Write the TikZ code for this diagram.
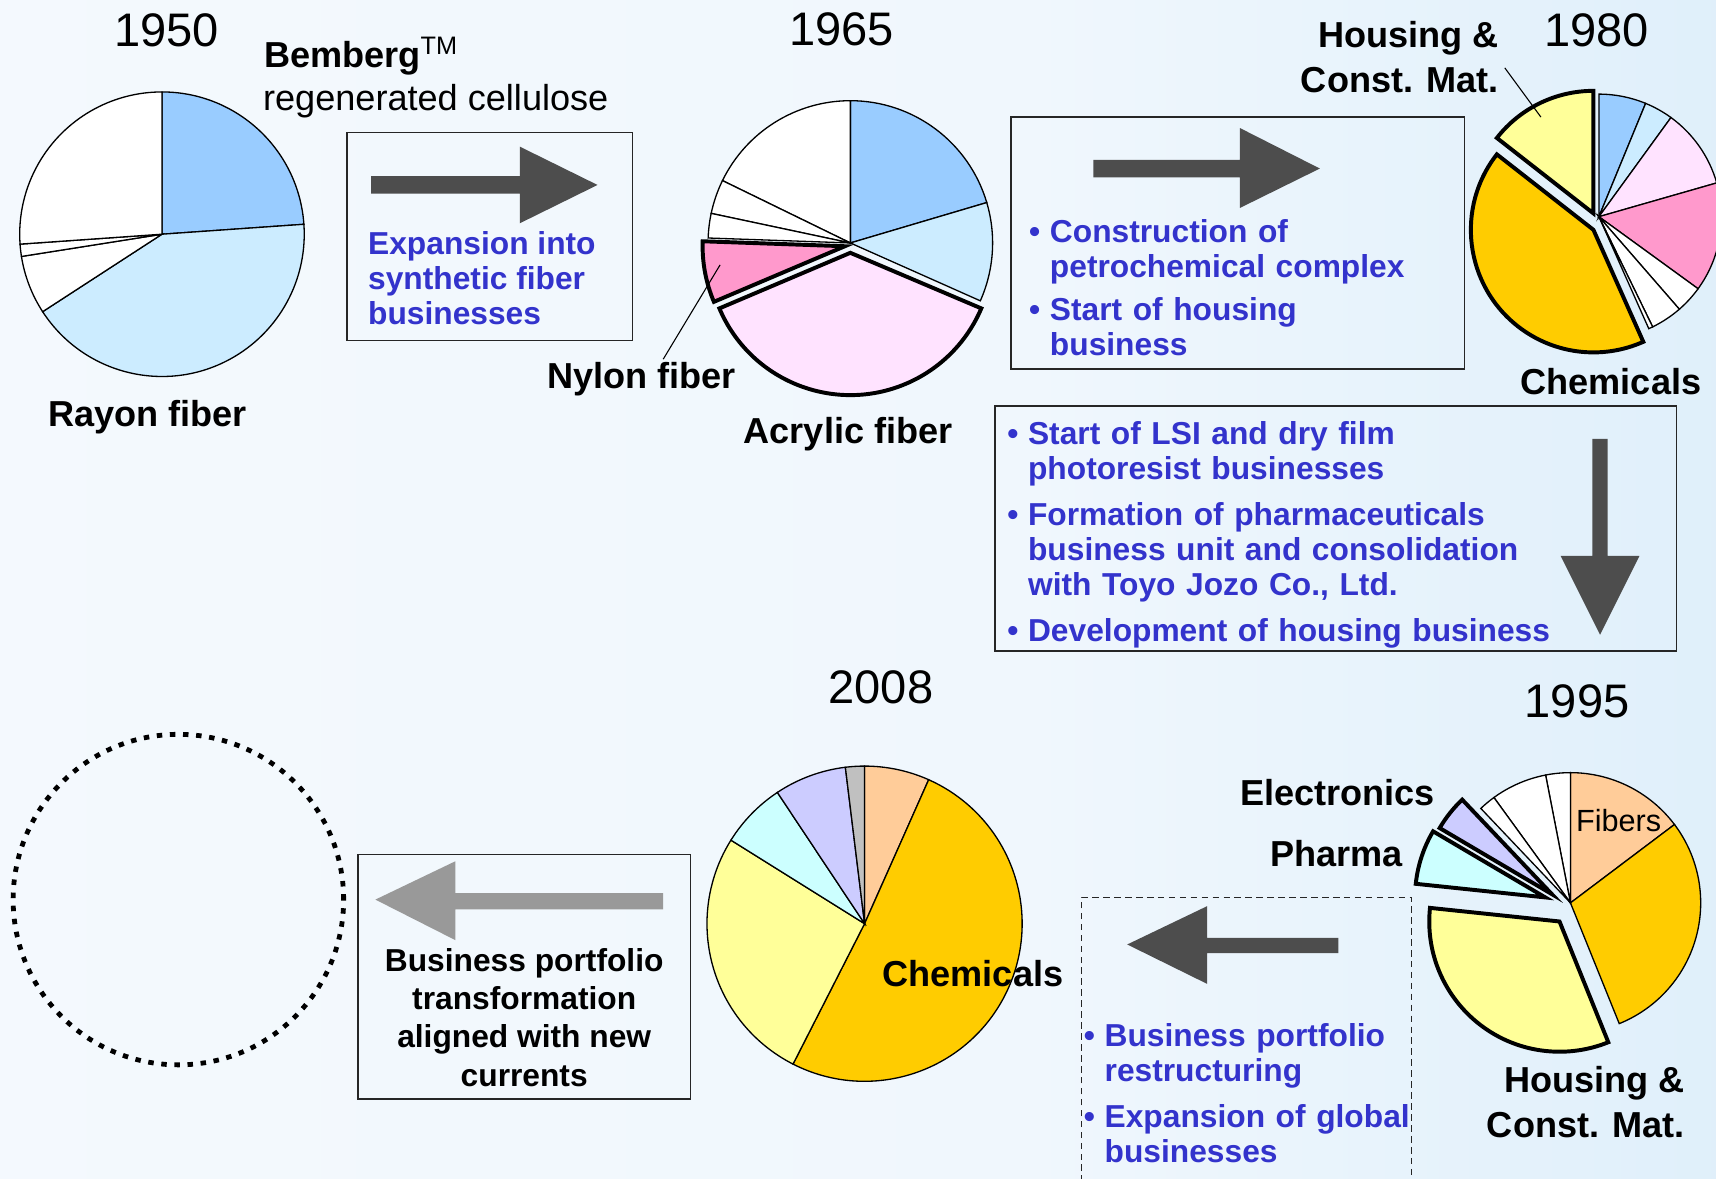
\documentclass[tikz,border=0pt]{standalone}
\usepackage{fontspec}
\setmainfont{Liberation Sans}
\usepackage{xcolor}
\usetikzlibrary{calc,positioning}
\definecolor{bgleft}{RGB}{247,251,254}
\definecolor{bgmid}{RGB}{240,247,253}
\definecolor{bgright}{RGB}{203,230,247}
\definecolor{listblue}{HTML}{3333CC}
\definecolor{arrowdark}{HTML}{4D4D4D}
\definecolor{arrowgrey}{HTML}{999999}
\definecolor{cblue}{HTML}{99CCFF}
\definecolor{clightblue}{HTML}{CCECFF}
\definecolor{cpink}{HTML}{FF99CC}
\definecolor{clightpink}{HTML}{FFE3FF}
\definecolor{cchem}{HTML}{FFCC00}
\definecolor{chouse}{HTML}{FFFF99}
\definecolor{cpeach}{HTML}{FFCC99}
\definecolor{ccyan}{HTML}{CCFFFF}
\definecolor{clavender}{HTML}{CCCCFF}
\definecolor{cgrey}{HTML}{C0C0C0}
\pgfdeclarehorizontalshading{bgshade}{100bp}{color(0bp)=(bgleft); color(55bp)=(bgmid); color(100bp)=(bgright)}
\tikzset{
  yearlbl/.style={font=\fontsize{21.5}{24}\selectfont},
  partlbl/.style={font=\fontsize{16.5}{20.5}\selectfont\bfseries},
  celltext/.style={font=\fontsize{16.5}{20}\selectfont},
  bluelist/.style={
    font=\fontsize{14.5}{16}\selectfont\bfseries,
    text=listblue,
    align=left,
    anchor=north west
  },
  framebox/.style={draw=black!85, line width=0.7pt},
  dashbox/.style={draw=black!85, line width=0.6pt, dash pattern=on 3pt off 2pt},
  bigarrow/.style={fill=arrowdark},
  greyarrow/.style={fill=arrowgrey},
  pieline/.style={draw=black, line width=0.6pt},
  explodeline/.style={draw=black, line width=1.8pt},
  dotring/.style={draw=black, line width=2.2pt, dash pattern=on 2.5pt off 3.5pt},
  leader/.style={draw=black, line width=0.5pt}
}
\newcommand{\pieslice}[6]{%
  \path[#6, fill=#5] (#1) -- ++(#3:#2) arc[start angle=#3, end angle=#4, radius=#2] -- cycle;}
\newcommand{\bitem}[2][0pt]{\par\vspace{#1}\noindent\hangindent=9.5pt\hangafter=1%
  \makebox[9.5pt][l]{\textbullet}#2\par}

\begin{document}
\begin{tikzpicture}[x=0.5pt, y=0.5pt, every node/.style={inner sep=0pt}]
\clip (0,0) rectangle (1568,-1077);
\shade[shading=bgshade] (0,0) rectangle (1568,-1077);

\draw[framebox] (317,-121) rectangle (578,-311);
\draw[framebox] (924,-107) rectangle (1338,-337);
\draw[framebox] (909,-371) rectangle (1532,-595);
\draw[framebox] (327,-781) rectangle (631,-1004);
\draw[dashbox] (988,-1100) -- (988,-820) -- (1290,-820) -- (1290,-1100);

\fill[bigarrow] (339,-161) -- (475,-161) -- (475,-134) -- (546,-169) -- (475,-204) -- (475,-177) -- (339,-177) -- cycle;
\fill[bigarrow] (999,-146) -- (1133,-146) -- (1133,-117) -- (1206,-154) -- (1133,-190) -- (1133,-162) -- (999,-162) -- cycle;
\fill[bigarrow] (1455,-401) -- (1469,-401) -- (1469,-508) -- (1498,-508) -- (1462,-580) -- (1426,-508) -- (1455,-508) -- cycle;
\fill[bigarrow] (1223,-857) -- (1103,-857) -- (1103,-828) -- (1030,-863) -- (1103,-899) -- (1103,-871) -- (1223,-871) -- cycle;
\fill[greyarrow] (606,-816) -- (416,-816) -- (416,-787) -- (343,-822) -- (416,-859) -- (416,-831) -- (606,-831) -- cycle;

\draw[dotring] (163,-822) circle[radius=151];

\coordinate (pie50) at (148,-214);
\coordinate (pie65) at (777,-222);
\coordinate (pie80) at (1461,-198);
\coordinate (pie95) at (1435,-825);
\coordinate (pie08) at (790,-844);

\pieslice{pie50}{130}{4}{90}{cblue}{pieline}
\pieslice{pie50}{130}{-147}{4}{clightblue}{pieline}
\pieslice{pie50}{130}{-171}{-147}{white}{pieline}
\pieslice{pie50}{130}{-176}{-171}{white}{pieline}
\pieslice{pie50}{130}{90}{184}{white}{pieline}

\pieslice{pie65}{130}{16.5}{90}{cblue}{pieline}
\pieslice{pie65}{130}{-24}{16.5}{clightblue}{pieline}
\pieslice{pie65}{130}{90}{154}{white}{pieline}
\pieslice{pie65}{130}{154}{168}{white}{pieline}
\pieslice{pie65}{130}{168}{178}{white}{pieline}
\pieslice{$(pie65)+(-5,-3)$}{130}{178}{203}{cpink}{explodeline}
\pieslice{$(pie65)+(0,-9)$}{130}{203}{337}{clightpink}{explodeline}

\pieslice{pie80}{112}{67.6}{90}{cblue}{pieline}
\pieslice{pie80}{112}{54}{67.6}{clightblue}{pieline}
\pieslice{pie80}{112}{16}{54}{clightpink}{pieline}
\pieslice{pie80}{112}{-36}{16}{cpink}{pieline}
\pieslice{pie80}{112}{-49}{-36}{white}{pieline}
\pieslice{pie80}{112}{-64}{-49}{white}{pieline}
\pieslice{pie80}{112}{-66}{-64}{white}{pieline}
\pieslice{$(pie80)+(-5,-12)$}{112}{142}{294}{cchem}{explodeline}
\pieslice{$(pie80)+(-5,3)$}{112}{90}{142}{chouse}{explodeline}

\pieslice{pie95}{119}{37}{90}{cpeach}{pieline}
\pieslice{pie95}{119}{-68}{37}{cchem}{pieline}
\pieslice{pie95}{119}{90}{101}{white}{pieline}
\pieslice{pie95}{119}{101}{126}{white}{pieline}
\pieslice{pie95}{119}{126}{133.5}{white}{pieline}
\pieslice{$(pie95)+(-17,8)$}{119}{133.5}{149.5}{clavender}{explodeline}
\pieslice{$(pie95)+(-23,5)$}{119}{149.5}{174}{ccyan}{explodeline}
\pieslice{$(pie95)+(-10,-17)$}{119}{174}{292}{chouse}{explodeline}

\pieslice{pie08}{144}{66}{90}{cpeach}{pieline}
\pieslice{pie08}{144}{-117}{66}{cchem}{pieline}
\pieslice{pie08}{144}{148}{243}{chouse}{pieline}
\pieslice{pie08}{144}{123.6}{148}{ccyan}{pieline}
\pieslice{pie08}{144}{97}{123.6}{clavender}{pieline}
\pieslice{pie08}{144}{90}{97}{cgrey}{pieline}

\node[yearlbl] (y1950) at (152,-28) {1950};
\node[yearlbl] (y1965) at (769,-27) {1965};
\node[yearlbl] (y1980) at (1459,-28) {1980};
\node[yearlbl] (y1995) at (1441,-641) {1995};
\node[yearlbl] (y2008) at (805,-628) {2008};

\node[partlbl, anchor=base west] (bemberg) at (241,-62) {Bemberg\textsuperscript{\mdseries TM}};
\node[celltext, anchor=base west] (cellulose) at (240,-101) {regenerated cellulose};
\node[partlbl] (rayon) at (135,-381) {Rayon fiber};
\node[partlbl] (nylonlbl) at (586,-346) {Nylon fiber};
\node[partlbl] (acryl) at (775,-397) {Acrylic fiber};
\node[partlbl, align=right, anchor=north east] (house80) at (1370,-19) {Housing \&\\Const. Mat.};
\node[partlbl] (chem80) at (1472,-349) {Chemicals};
\node[partlbl] (elec) at (1222,-724) {Electronics};
\node[partlbl] (pharma) at (1221,-780) {Pharma};
\node[font=\fontsize{14}{16}\selectfont] (fibers) at (1479,-750) {Fibers};
\node[partlbl, align=right, anchor=north east] (house95) at (1540,-974) {Housing \&\\Const. Mat.};
\node[partlbl] (chem08) at (889,-890) {Chemicals};

\coordinate (nylonpt) at (658,-242);
\coordinate (house80pt) at (1408,-107);
\draw[leader] ($(nylonlbl.north)+(20,2)$) -- (nylonpt);
\draw[leader] ($(house80.east)+(5,-10)$) -- (house80pt);

\node[bluelist] (synth) at (336,-211) {Expansion into\\synthetic fiber\\businesses};
\node[bluelist, text width=190pt] (steps80) at (940,-189) {\bitem{Construction of\newline petrochemical complex}\bitem[3.5pt]{Start of housing\newline business}};
\node[bluelist, text width=260pt] (steps95) at (920,-374) {\bitem{Start of LSI and dry film\newline photoresist businesses}\bitem[5pt]{Formation of pharmaceuticals\newline business unit and consolidation\newline with Toyo Jozo Co., Ltd.}\bitem[5pt]{Development of housing business}};
\node[bluelist, text width=160pt] (steps08) at (990,-924) {\bitem{Business portfolio\newline restructuring}\bitem[5pt]{Expansion of global\newline businesses}};
\node[font=\fontsize{14.5}{17.5}\selectfont\bfseries, align=center, anchor=north] (newcur) at (479,-866) {Business portfolio\\transformation\\aligned with new\\currents};
\end{tikzpicture}
\end{document}
